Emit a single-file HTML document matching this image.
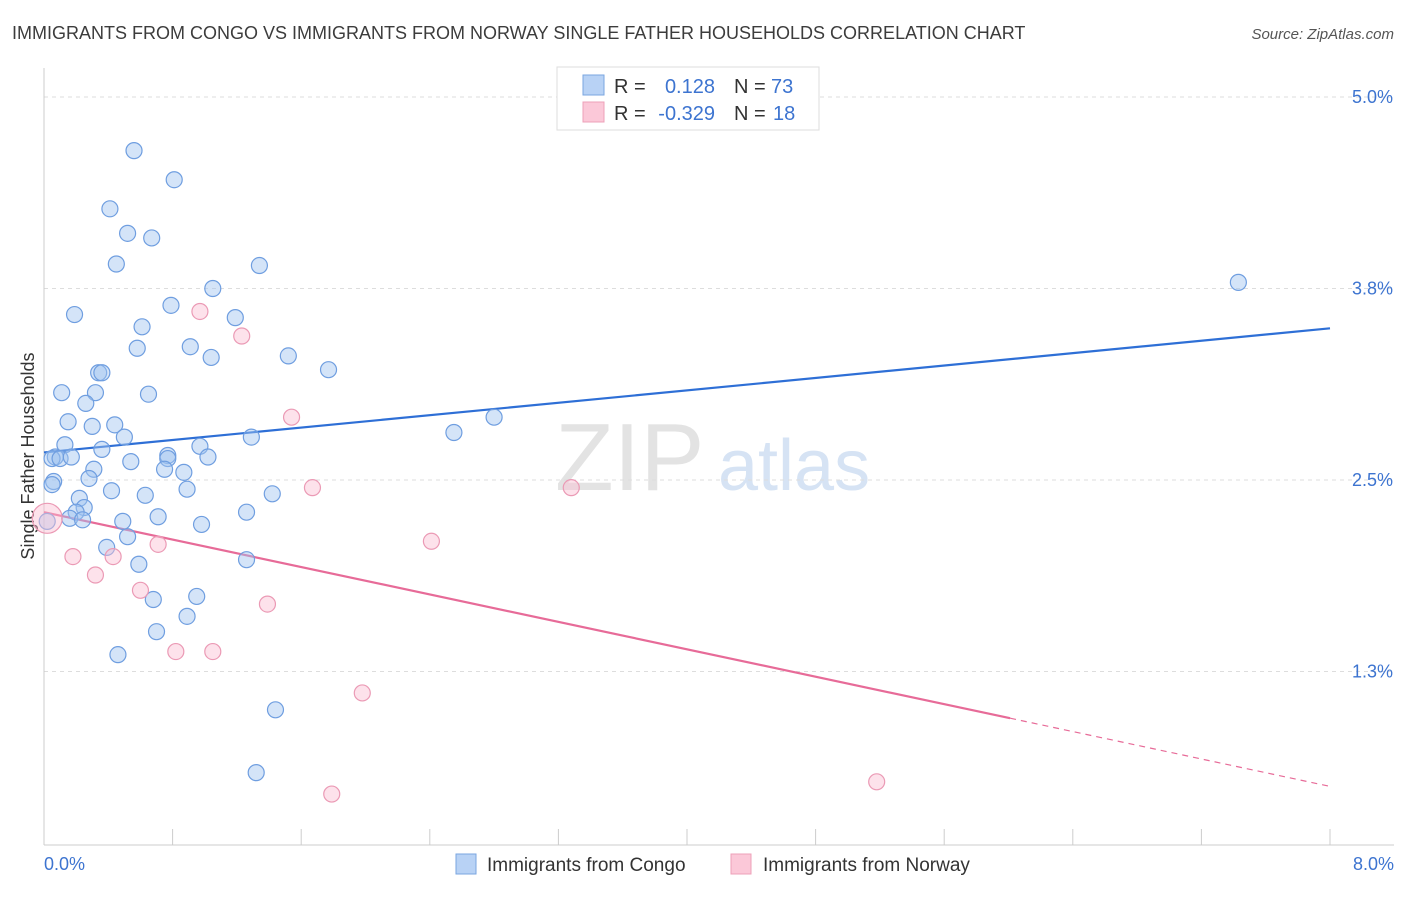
<!DOCTYPE html>
<html><head><meta charset="utf-8"><style>
body{margin:0;background:#fff;font-family:"Liberation Sans",sans-serif;}
svg text{font-family:"Liberation Sans",sans-serif;}
</style></head><body>
<svg id="chart" width="1406" height="892" viewBox="0 0 1406 892">
<text x="12" y="39" font-size="18" fill="#3c3c3c">IMMIGRANTS FROM CONGO VS IMMIGRANTS FROM NORWAY SINGLE FATHER HOUSEHOLDS CORRELATION CHART</text>
<text x="1394" y="39" font-size="15" fill="#555" text-anchor="end" font-style="italic">Source: ZipAtlas.com</text>
<text x="555" y="490" font-size="96" fill="#e3e3e3" font-family="Liberation Serif">ZIP</text>
<text x="718" y="490" font-size="72" fill="#d6e3f4">atlas</text>
<text transform="translate(34,456) rotate(-90)" font-size="18" fill="#333" text-anchor="middle">Single Father Households</text>
<g id="grid"></g><g id="axes"></g><g id="trends"></g><g id="points"></g>
<g>
<rect x="557" y="67" width="262" height="63" fill="#fff" stroke="#ddd"/>
<rect x="583" y="75" width="21" height="20" fill="#b8d2f5" stroke="#7aa6e0"/>
<rect x="583" y="102" width="21" height="20" fill="#fbc8d8" stroke="#eea0b8"/>
<text x="614" y="93" font-size="20" fill="#333">R =</text>
<text x="715" y="93" font-size="20" fill="#3d74d0" text-anchor="end">0.128</text>
<text x="734" y="93" font-size="20" fill="#333">N =</text>
<text x="771" y="93" font-size="20" fill="#3d74d0">73</text>
<text x="614" y="120" font-size="20" fill="#333">R =</text>
<text x="715" y="120" font-size="20" fill="#3d74d0" text-anchor="end">-0.329</text>
<text x="734" y="120" font-size="20" fill="#333">N =</text>
<text x="773" y="120" font-size="20" fill="#3d74d0">18</text>
</g>
<g>
<rect x="456" y="854" width="20" height="20" fill="#b8d2f5" stroke="#7aa6e0"/>
<text x="487" y="871" font-size="19" fill="#333">Immigrants from Congo</text>
<rect x="731" y="854" width="20" height="20" fill="#fbc8d8" stroke="#eea0b8"/>
<text x="763" y="871" font-size="19" fill="#333">Immigrants from Norway</text>
</g>
</svg>
<script>
const yTicks=[5.0,3.75,2.5,1.25];
const yTickLabels=["5.0%","3.8%","2.5%","1.3%"];
const xTickLabels=["0.0%","8.0%"];
const congoX=[0.56,0.81,0.41,0.52,0.67,0.45,1.34,1.05,0.79,0.19,1.19,0.61,0.58,0.91,1.04,1.52,1.77,0.34,0.36,0.11,0.32,0.65,0.26,0.15,0.44,0.30,0.50,1.29,2.55,2.80,0.13,0.36,0.97,0.07,0.05,0.10,0.17,0.77,0.77,1.02,0.54,0.31,0.75,0.87,0.28,0.06,0.05,0.42,0.89,0.63,0.22,1.42,0.25,0.20,1.26,0.71,0.16,0.24,0.49,0.98,0.02,0.52,0.39,0.59,1.26,0.95,0.68,0.89,0.70,0.46,1.44,1.32,7.43];
const congoY=[4.65,4.46,4.27,4.11,4.08,3.91,3.90,3.75,3.64,3.58,3.56,3.50,3.36,3.37,3.30,3.31,3.22,3.20,3.20,3.07,3.07,3.06,3.00,2.88,2.86,2.85,2.78,2.78,2.81,2.91,2.73,2.70,2.72,2.65,2.64,2.64,2.65,2.66,2.64,2.65,2.62,2.57,2.57,2.55,2.51,2.49,2.47,2.43,2.44,2.40,2.38,2.41,2.32,2.29,2.29,2.26,2.25,2.24,2.23,2.21,2.23,2.13,2.06,1.95,1.98,1.74,1.72,1.61,1.51,1.36,1.00,0.59,3.79];
const norwayX=[0.02,0.97,1.23,1.54,1.67,3.28,2.41,0.18,0.43,0.71,0.32,0.60,1.39,0.82,1.05,1.98,1.79,5.18];
const norwayY=[2.25,3.60,3.44,2.91,2.45,2.45,2.10,2.00,2.00,2.08,1.88,1.78,1.69,1.38,1.38,1.11,0.45,0.53];
const congoTrend=[2.68,3.49];
const norwayTrend=[2.29,0.50];
const norwaySolidEnd=6.01;
const NS="http://www.w3.org/2000/svg";
const X=v=>44+v*160.75, Y=v=>97+(5-v)*153.2;
function mk(tag,attrs,parent){const e=document.createElementNS(NS,tag);for(const k in attrs)e.setAttribute(k,attrs[k]);document.getElementById(parent).appendChild(e);return e;}
yTicks.forEach((t,i)=>{
 const g=mk('line',{x1:44,x2:1394,y1:Y(t),y2:Y(t),stroke:'#ddd','stroke-dasharray':'4,4'},'grid');
 
 
 const l=mk('text',{x:1393,y:Y(t)+6,'font-size':18,fill:'#3d74d0','text-anchor':'end'},'axes');l.textContent=yTickLabels[i];
 
 
});
mk('line',{x1:44,x2:44,y1:68,y2:845,stroke:'#ccc'},'axes');
mk('line',{x1:44,x2:1394,y1:845,y2:845,stroke:'#ccc'},'axes');
for(let i=0;i<=10;i++){const t=mk('line',{x1:X(i*0.8),x2:X(i*0.8),y1:829,y2:845,stroke:'#ccc'},'axes');
 
 }
[[0,'start',44],[8,'end',1394]].forEach((d,i)=>{const l=mk('text',{x:d[2],y:870,'font-size':18,fill:'#3d74d0','text-anchor':d[1]},'axes');l.textContent=xTickLabels[i];
 
 });
const ny=x=>norwayTrend[0]+(norwayTrend[1]-norwayTrend[0])*x/8;
let t1=mk('line',{x1:X(0),y1:Y(congoTrend[0]),x2:X(8),y2:Y(congoTrend[1]),stroke:'#2e6fd6','stroke-width':2.2},'trends');


let t2=mk('line',{x1:X(0),y1:Y(ny(0)),x2:X(norwaySolidEnd),y2:Y(ny(norwaySolidEnd)),stroke:'#e76b98','stroke-width':2.2},'trends');


let t3=mk('line',{x1:X(norwaySolidEnd),y1:Y(ny(norwaySolidEnd)),x2:X(8),y2:Y(ny(8)),stroke:'#e76b98','stroke-width':1.2,'stroke-dasharray':'6,5'},'trends');


congoX.forEach((x,i)=>{const c=mk('circle',{cx:X(x),cy:Y(congoY[i]),r:8,fill:'rgba(160,195,240,0.45)',stroke:'#6f9ee0','stroke-width':1.2},'points');
 
 });
norwayX.forEach((x,i)=>{const c=mk('circle',{cx:X(x),cy:Y(norwayY[i]),r:i==0?15:8,fill:'rgba(250,190,210,0.45)',stroke:'#eb9ab5','stroke-width':1.2},'points');
 
 });
</script>
</body></html>
